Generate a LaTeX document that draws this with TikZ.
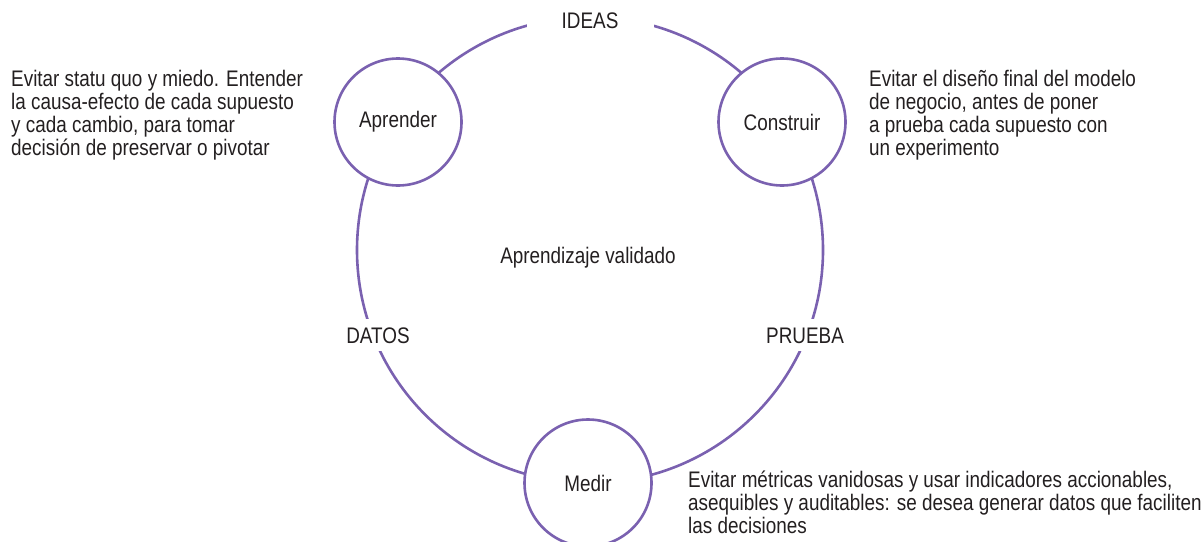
\documentclass[tikz,border=0pt]{standalone}
\usepackage{fontspec}
\setmainfont{Liberation Sans}[FakeStretch=0.84]
\usepackage{tikz}
\definecolor{lila}{RGB}{122,97,176}
\definecolor{tinta}{RGB}{35,31,32}

\begin{document}
\begin{tikzpicture}[x=1pt,y=-1pt,
	every node/.style={font=\fontsize{22.5}{22.7}\selectfont,text=tinta},
	anillo/.style={line width=2.6pt,lila},
	etapa/.style={circle,draw=lila,line width=2.6pt,fill=white,minimum size=127pt,inner sep=0pt},
	etiqueta/.style={fill=white,inner xsep=4pt,minimum height=32pt,text height=16pt,text depth=0pt},
	nota/.style={align=left,anchor=base west,inner sep=0pt}]
	\useasboundingbox (0,0) rectangle (1204,541);
	\coordinate (ciclo) at (590,250);
	\draw[anillo] (ciclo) circle[radius=233];
	% etapas del ciclo
	\node[etapa] (aprender) at (398,122) {Aprender};
	\node[etapa] (construir) at (782,122) {Construir};
	\node[etapa] (medir) at (588,483) {\raisebox{-4pt}{Medir}};
	% etiquetas sobre el anillo
	\node[etiqueta,minimum width=127pt,minimum height=26pt] (ideas) at (590,20) {IDEAS};
	\node[etiqueta] (datos) at (378,335) {DATOS};
	\node[etiqueta] (prueba) at (805,335) {PRUEBA};
	\node[anchor=base] (centro) at (588,263) {Aprendizaje validado};
	% notas (base = ultima linea)
	\node[nota] (notaaprender) at (11,155) {Evitar statu quo y miedo. Entender\\la causa-efecto de cada supuesto\\y cada cambio, para tomar\\decisión de preservar o pivotar};
	\node[nota] (notaconstruir) at (869,155) {Evitar el diseño final del modelo\\de negocio, antes de poner\\a prueba cada supuesto con\\un experimento};
	\node[nota] (notamedir) at (688,533) {Evitar métricas vanidosas y usar indicadores accionables,\\asequibles y auditables: se desea generar datos que faciliten\\las decisiones};
\end{tikzpicture}
\end{document}
